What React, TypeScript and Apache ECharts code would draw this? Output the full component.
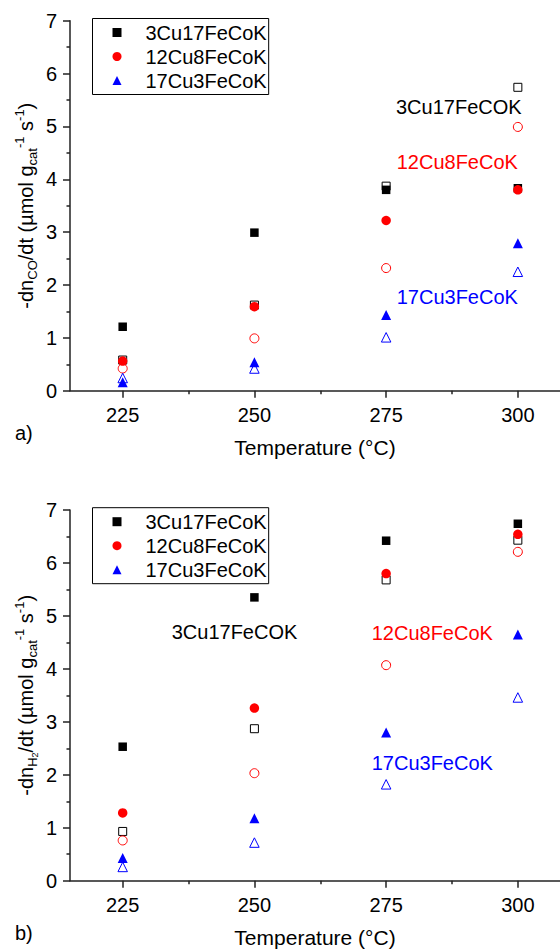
import React, { useEffect, useRef } from 'react';
import * as echarts from 'echarts';

// ---------- data ----------
const temperatures = [225, 250, 275, 300];
const xTickValues = [225, 250, 275, 300];
const xMinorTickValues = [237.5, 262.5, 287.5];
const catalysts = ['3Cu17FeCoK', '12Cu8FeCoK', '17Cu3FeCoK'];

// a) CO consumption rate
const coFilled3Cu17 = [1.21, 2.99, 3.8, 3.83];
const coOpen3Cu17 = [0.58, 1.62, 3.87, 5.74];
const coFilled12Cu8 = [0.56, 1.59, 3.22, 3.8];
const coOpen12Cu8 = [0.42, 0.99, 2.32, 4.99];
const coFilled17Cu3 = [0.16, 0.54, 1.43, 2.79];
const coOpen17Cu3 = [0.24, 0.42, 1.01, 2.25];

// b) H2 consumption rate
const h2Filled3Cu17 = [2.53, 5.35, 6.42, 6.74];
const h2Open3Cu17 = [0.93, 2.87, 5.68, 6.43];
const h2Filled12Cu8 = [1.28, 3.26, 5.8, 6.54];
const h2Open12Cu8 = [0.76, 2.03, 4.07, 6.21];
const h2Filled17Cu3 = [0.43, 1.18, 2.8, 4.65];
const h2Open17Cu3 = [0.26, 0.72, 1.82, 3.46];

const annotationLabels = ['3Cu17FeCOK', '12Cu8FeCoK', '17Cu3FeCoK'];

const FONT = '"Liberation Sans", Arial, Helvetica, sans-serif';
const COLORS = ['#000000', '#ff0000', '#0000ff'];
const SYMBOLS = ['rect', 'circle', 'triangle'];
const FILLED_SIZE = [8.5, 9.5, 10];
const OPEN_SIZE = [8, 9, 9.5];
const AXIS_COLOR = '#222';

function pts(values: number[]) {
  return temperatures.map((t, i) => [t, values[i]]);
}

function makeSeries(
  name: string,
  values: number[],
  k: number,
  filled: boolean,
  xAxisIndex: number,
  yAxisIndex: number
) {
  return {
    type: 'scatter',
    name,
    xAxisIndex,
    yAxisIndex,
    data: pts(values),
    symbol: SYMBOLS[k],
    symbolSize: filled ? FILLED_SIZE[k] : OPEN_SIZE[k],
    itemStyle: filled
      ? { color: COLORS[k], opacity: 1 }
      : { color: '#ffffff', borderColor: COLORS[k], borderWidth: 1, opacity: 1 },
    emphasis: { disabled: true },
  };
}

function xAxes(gridIndex: number) {
  const common = {
    type: 'value',
    gridIndex,
    min: 215,
    max: 308,
    splitLine: { show: false },
  };
  return [
    {
      ...common,
      position: 'bottom',
      name: 'Temperature (°C)',
      nameLocation: 'middle',
      nameGap: 46,
      nameMoveOverlap: false,
      nameTextStyle: { fontSize: 21, color: '#000', fontFamily: FONT },
      axisLine: { show: true, lineStyle: { color: AXIS_COLOR, width: 1.5 } },
      axisTick: {
        show: true,
        length: 7,
        customValues: xTickValues,
        lineStyle: { color: AXIS_COLOR, width: 1.5 },
      },
      axisLabel: {
        show: true,
        customValues: xTickValues,
        fontSize: 20,
        margin: 14,
        color: '#000',
        fontFamily: FONT,
      },
    },
    {
      ...common,
      position: 'bottom',
      axisLine: { show: false },
      axisTick: {
        show: true,
        length: 3.5,
        customValues: xMinorTickValues,
        lineStyle: { color: AXIS_COLOR, width: 1.5 },
      },
      axisLabel: { show: false },
    },
  ];
}

function yAxis(gridIndex: number, sub: string) {
  return {
    type: 'value',
    gridIndex,
    min: 0,
    max: 7,
    interval: 1,
    name: `{m|-dn}${sub}{m|/dt (µmol g}{s|cat}{p|-1}{m| s}{p|-1}{m|)}`,
    nameLocation: 'middle',
    nameRotate: 90,
    nameGap: 31,
    nameMoveOverlap: false,
    nameTextStyle: {
      color: '#000',
      fontFamily: FONT,
      rich: {
        m: { fontSize: 20, lineHeight: 26, fontFamily: FONT, color: '#000' },
        s: { fontSize: 13, lineHeight: 12, verticalAlign: 'bottom', fontFamily: FONT, color: '#000' },
        ss: { fontSize: 9, lineHeight: 8, verticalAlign: 'bottom', fontFamily: FONT, color: '#000' },
        p: { fontSize: 13, lineHeight: 12, verticalAlign: 'top', fontFamily: FONT, color: '#000' },
      },
    },
    splitLine: { show: false },
    axisLine: { show: true, lineStyle: { color: AXIS_COLOR, width: 1.5 } },
    axisTick: { show: true, length: 7, lineStyle: { color: AXIS_COLOR, width: 1.5 } },
    minorTick: { show: true, splitNumber: 2, length: 3.5, lineStyle: { color: AXIS_COLOR, width: 1.5 } },
    minorSplitLine: { show: false },
    axisLabel: { fontSize: 20, margin: 13, color: '#000', fontFamily: FONT },
  };
}

function legend(top: number) {
  return {
    show: true,
    orient: 'vertical',
    left: 92.5,
    top,
    data: catalysts,
    borderColor: '#000',
    borderWidth: 1,
    padding: [2, 2, 2, 20],
    itemGap: 0,
    itemWidth: 9,
    itemHeight: 9,
    selectedMode: false,
    itemStyle: { opacity: 1 },
    textStyle: {
      fontSize: 20,
      lineHeight: 24,
      color: '#000',
      fontFamily: FONT,
      padding: [0, 0, 0, 19],
    },
  };
}

function text(str: string, x: number, y: number, fill: string) {
  return {
    type: 'text',
    x,
    y,
    silent: true,
    style: {
      text: str,
      fill,
      font: `20px ${FONT}`,
      verticalAlign: 'middle',
      align: 'left',
    },
  };
}

export default function App() {
  const ref = useRef<HTMLDivElement>(null);

  useEffect(() => {
    if (!ref.current) return;
    const chart = echarts.init(ref.current, null, { renderer: 'svg' });

    const series = [
      makeSeries('3Cu17FeCoK (open)', coOpen3Cu17, 0, false, 0, 0),
      makeSeries(catalysts[0], coFilled3Cu17, 0, true, 0, 0),
      makeSeries('12Cu8FeCoK (open)', coOpen12Cu8, 1, false, 0, 0),
      makeSeries(catalysts[1], coFilled12Cu8, 1, true, 0, 0),
      makeSeries('17Cu3FeCoK (open)', coOpen17Cu3, 2, false, 0, 0),
      makeSeries(catalysts[2], coFilled17Cu3, 2, true, 0, 0),

      makeSeries('3Cu17FeCoK (open) H2', h2Open3Cu17, 0, false, 2, 1),
      makeSeries(catalysts[0], h2Filled3Cu17, 0, true, 2, 1),
      makeSeries('12Cu8FeCoK (open) H2', h2Open12Cu8, 1, false, 2, 1),
      makeSeries(catalysts[1], h2Filled12Cu8, 1, true, 2, 1),
      makeSeries('17Cu3FeCoK (open) H2', h2Open17Cu3, 2, false, 2, 1),
      makeSeries(catalysts[2], h2Filled17Cu3, 2, true, 2, 1),
    ];

    const option = {
      animation: false,
      backgroundColor: '#ffffff',
      textStyle: { fontFamily: FONT },
      grid: [
        { left: 70, top: 20.7, width: 490, height: 370, containLabel: false, outerBoundsMode: 'none' },
        { left: 70, top: 510, width: 490, height: 370.7, containLabel: false, outerBoundsMode: 'none' },
      ],
      xAxis: [...xAxes(0), ...xAxes(1)],
      yAxis: [yAxis(0, '{s|CO}'), yAxis(1, '{s|H}{ss|2}')],
      legend: [legend(18.5), legend(507.7)],
      series,
      graphic: [
        text(annotationLabels[0], 396, 106.7, COLORS[0]),
        text(annotationLabels[1], 396.7, 161.7, COLORS[1]),
        text(annotationLabels[2], 396.7, 296.7, COLORS[2]),
        text(annotationLabels[0], 171.7, 632.3, COLORS[0]),
        text(annotationLabels[1], 371.7, 633.3, COLORS[1]),
        text(annotationLabels[2], 371.7, 762.7, COLORS[2]),
        text('a)', 15, 433, '#000'),
        text('b)', 15, 933, '#000'),
      ],
    };

    chart.setOption(option as any);
    return () => chart.dispose();
  }, []);

  return (
    <div
      ref={ref}
      style={{ position: 'absolute', left: 0, top: 0, width: 560, height: 951 }}
    />
  );
}
